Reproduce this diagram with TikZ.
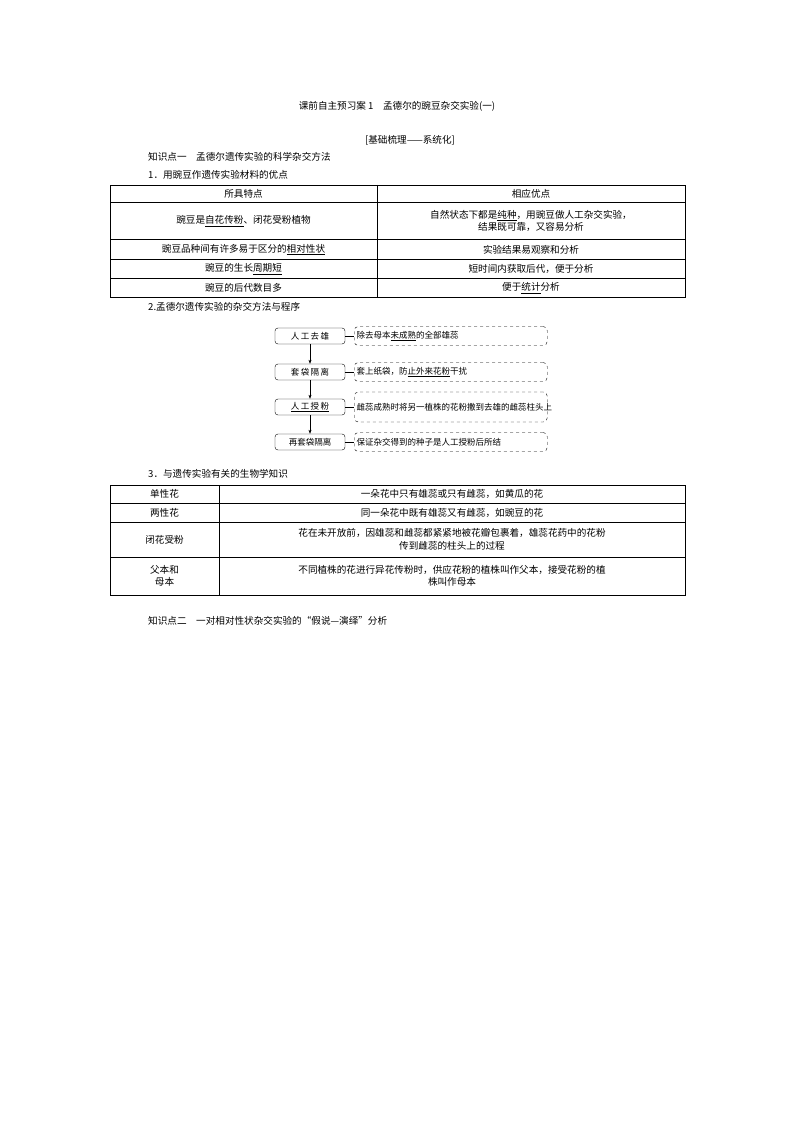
\documentclass[tikz,border=0pt]{standalone}
\usepackage{fontspec}
\setmainfont{Noto Sans CJK SC}
\usetikzlibrary{arrows.meta}
\begin{document}
\begin{tikzpicture}[x=1pt,y=-1pt,
 txt/.style={inner sep=0pt,font=\fontsize{9.6}{12.5}\selectfont},
 lbox/.style={draw,rounded corners=3pt,minimum width=70pt,minimum height=16pt,inner sep=0pt,font=\fontsize{8.5}{10}\selectfont},
 rbox/.style={draw,dashed,rounded corners=4pt,minimum width=193pt,inner sep=2pt,anchor=west,align=left,text width=188pt,font=\fontsize{8.5}{11}\selectfont},
 tl/.style={line width=0.6pt}]
\useasboundingbox (0,0) rectangle (794,1123);
\node[txt] (title) at (397,106) {课前自主预习案 1\quad 孟德尔的豌豆杂交实验(一)};
\node[txt] (sub) at (410,140) {[基础梳理——系统化]};
\node[txt,anchor=west] (k1) at (148,157) {知识点一\quad 孟德尔遗传实验的科学杂交方法};
\node[txt,anchor=west] (s1) at (148,175) {1．用豌豆作遗传实验材料的优点};
% table 1
\draw[tl] (110,185) rectangle (685,297);
\foreach \y in {202,239,259,278} \draw[tl] (110,\y) -- (685,\y);
\draw[tl] (377,185) -- (377,297);
\node[txt] (a1) at (243.5,194) {所具特点};
\node[txt] (b1) at (531,194) {相应优点};
\node[txt] (a2) at (243.5,221) {豌豆是\underline{自花传粉}、闭花受粉植物};
\node[txt,align=center] (b2) at (531,221) {自然状态下都是\underline{纯种}，用豌豆做人工杂交实验，\\结果既可靠，又容易分析};
\node[txt] (a3) at (243.5,249.5) {豌豆品种间有许多易于区分的\underline{相对性状}};
\node[txt] (b3) at (531,249.5) {实验结果易观察和分析};
\node[txt] (a4) at (243.5,269) {豌豆的生长\underline{周期短}};
\node[txt] (b4) at (531,269) {短时间内获取后代，便于分析};
\node[txt] (a5) at (243.5,288) {豌豆的后代数目多};
\node[txt] (b5) at (531,288) {便于\underline{统计}分析};
\node[txt,anchor=west] (s2) at (148,307) {2.孟德尔遗传实验的杂交方法与程序};
% flow
\node[lbox] (p1) at (310,336) {人\,工\,去\,雄};
\node[lbox] (p2) at (310,372) {套\,袋\,隔\,离};
\node[lbox] (p3) at (310,407) {\underline{人\,工\,授\,粉}};
\node[lbox] (p4) at (310,442) {再套袋隔离};
\node[rbox,minimum height=19pt] (q1) at (354,336) {除去母本\underline{未成熟}的全部雄蕊};
\node[rbox,minimum height=19pt] (q2) at (354,372) {套上纸袋，防\underline{止外来花粉}干扰};
\node[rbox,minimum height=30pt] (q3) at (354,407) {雌蕊成熟时将另一植株的花粉撒到去雄的雌蕊柱头上};
\node[rbox,minimum height=19pt] (q4) at (354,442) {保证杂交得到的种子是人工授粉后所结};
\foreach \i in {1,2,3,4} \draw (p\i) -- (q\i);
\draw[-{Stealth[length=4pt]}] (p1) -- (p2);
\draw[-{Stealth[length=4pt]}] (p2) -- (p3);
\draw[-{Stealth[length=4pt]}] (p3) -- (p4);
% table 2
\node[txt,anchor=west] (s3) at (148,474) {3．与遗传实验有关的生物学知识};
\draw[tl] (110,485) rectangle (685,595);
\foreach \y in {503,522,557} \draw[tl] (110,\y) -- (685,\y);
\draw[tl] (219,485) -- (219,595);
\node[txt] (c1) at (164.5,494) {单性花};
\node[txt] (d1) at (452,494) {一朵花中只有雄蕊或只有雌蕊，如黄瓜的花};
\node[txt] (c2) at (164.5,512.5) {两性花};
\node[txt] (d2) at (452,512.5) {同一朵花中既有雄蕊又有雌蕊，如豌豆的花};
\node[txt] (c3) at (164.5,539.5) {闭花受粉};
\node[txt,align=center] (d3) at (452,539.5) {花在未开放前，因雄蕊和雌蕊都紧紧地被花瓣包裹着，雄蕊花药中的花粉\\传到雌蕊的柱头上的过程};
\node[txt,align=center] (c4) at (164.5,576) {父本和\\母本};
\node[txt,align=center] (d4) at (452,576) {不同植株的花进行异花传粉时，供应花粉的植株叫作父本，接受花粉的植\\株叫作母本};
\node[txt,anchor=west] (k2) at (148,621) {知识点二\quad 一对相对性状杂交实验的“假说—演绎”分析};
\end{tikzpicture}
\end{document}
